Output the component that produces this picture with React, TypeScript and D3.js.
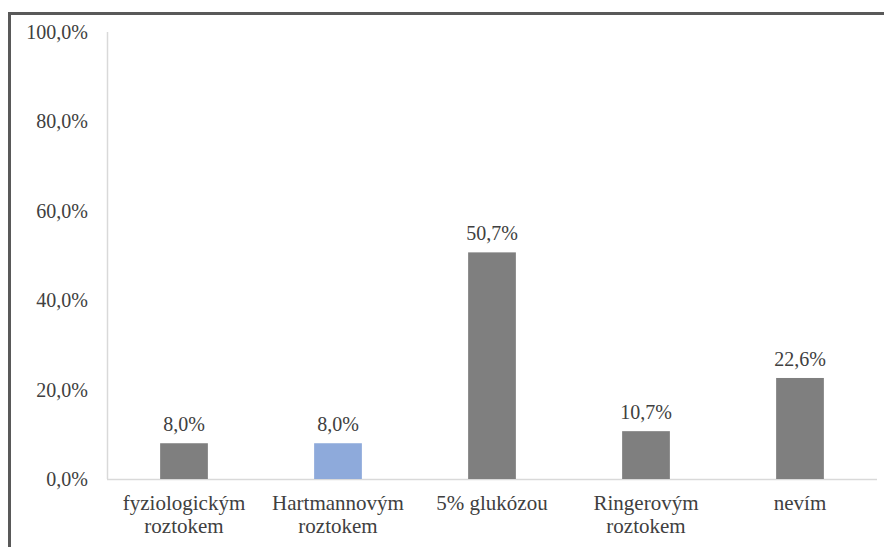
import React from "react";
import * as d3 from "d3";

const categories: string[][] = [
  ["fyziologickým", "roztokem"],
  ["Hartmannovým", "roztokem"],
  ["5% glukózou"],
  ["Ringerovým", "roztokem"],
  ["nevím"],
];
const values: number[] = [8.0, 8.0, 50.7, 10.7, 22.6];
const barColors: string[] = ["#7f7f7f", "#8eaadb", "#7f7f7f", "#7f7f7f", "#7f7f7f"];
const yTicks: number[] = [0, 20, 40, 60, 80, 100];

const fmt = (v: number) => v.toFixed(1).replace(".", ",") + "%";

export default function App() {
  const left = 107;
  const right = 877;
  const x = d3
    .scaleBand<number>()
    .domain(d3.range(values.length))
    .range([left, right])
    .paddingInner(0.69)
    .paddingOuter(0.345);
  const y = d3.scaleLinear().domain([0, 100]).range([479, 32]);

  return (
    <div style={{ position: "absolute", left: 0, top: 0 }}>
      <svg width={884} height={547}>
        <rect x={9.5} y={13.5} width={904} height={567} fill="#fff" stroke="#595959" strokeWidth={3} />
        <line x1={left + 0.5} x2={left + 0.5} y1={y(100)} y2={y(0)} stroke="#d9d9d9" strokeWidth={1.5} />
        <line x1={left} x2={right} y1={y(0) + 0.5} y2={y(0) + 0.5} stroke="#d9d9d9" strokeWidth={1.5} />
        {yTicks.map((t) => (
          <text
            key={t}
            x={88}
            y={y(t)}
            dy="0.35em"
            textAnchor="end"
            fontFamily="Liberation Serif"
            fontSize={20}
            fill="#404040"
          >
            {fmt(t)}
          </text>
        ))}
        {values.map((v, i) => (
          <rect
            key={"b" + i}
            x={x(i)!}
            y={y(v)}
            width={x.bandwidth()}
            height={y(0) - y(v)}
            fill={barColors[i]}
          />
        ))}
        {values.map((v, i) => (
          <text
            key={"v" + i}
            x={x(i)! + x.bandwidth() / 2}
            y={y(v) - 12}
            textAnchor="middle"
            fontFamily="Liberation Serif"
            fontSize={20}
            fill="#404040"
          >
            {fmt(v)}
          </text>
        ))}
        {categories.map((lines, i) => (
          <text
            key={"c" + i}
            x={x(i)! + x.bandwidth() / 2}
            y={510}
            textAnchor="middle"
            fontFamily="Liberation Serif"
            fontSize={21}
            fill="#404040"
          >
            {lines.map((line, j) => (
              <tspan key={j} x={x(i)! + x.bandwidth() / 2} dy={j === 0 ? 0 : 23}>
                {line}
              </tspan>
            ))}
          </text>
        ))}
      </svg>
    </div>
  );
}
